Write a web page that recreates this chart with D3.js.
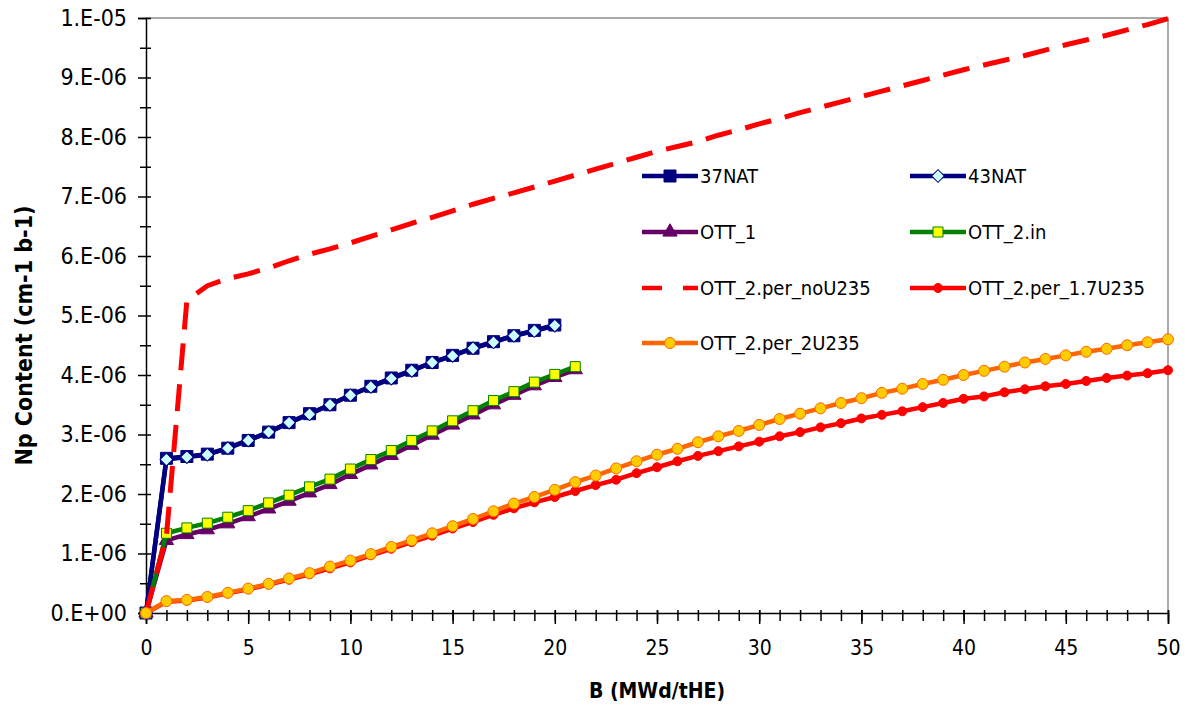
<!DOCTYPE html>
<html>
<head>
<meta charset="utf-8">
<title>Np Content vs Burnup</title>
<script src="https://d3js.org/d3.v7.min.js"></script>
<style>
body { margin: 0; background: #fff; }
text { font-family: 'DejaVu Sans Condensed', 'DejaVu Sans', sans-serif; fill: #000; }
</style>
</head>
<body>
<svg id="chart" width="1188" height="711"></svg>
<script>
// Np content in units of 1e-6 (cm-1 b-1), one value per burnup step of 1 MWd/tHE from 0
var np37NAT = [0, 2.60, 2.63, 2.67, 2.77, 2.90, 3.04, 3.20, 3.35, 3.50, 3.66, 3.81, 3.95, 4.08, 4.21, 4.33, 4.45, 4.56, 4.66, 4.75, 4.84];
var np43NAT = [0, 2.58, 2.62, 2.66, 2.77, 2.90, 3.04, 3.20, 3.34, 3.50, 3.66, 3.80, 3.94, 4.07, 4.21, 4.32, 4.45, 4.55, 4.66, 4.74, 4.83];
var npOTT1 = [0, 1.22, 1.32, 1.40, 1.50, 1.62, 1.75, 1.88, 2.02, 2.16, 2.33, 2.49, 2.65, 2.82, 2.99, 3.16, 3.33, 3.50, 3.66, 3.82, 3.96, 4.09];
var npOTT2in = [0, 1.34, 1.43, 1.51, 1.61, 1.72, 1.85, 1.98, 2.12, 2.25, 2.42, 2.58, 2.73, 2.90, 3.06, 3.23, 3.40, 3.57, 3.72, 3.88, 4.01, 4.14];
var npNoU235 = [0, 1.30, 5.25, 5.50, 5.62, 5.70, 5.80, 5.92, 6.03, 6.12, 6.22, 6.33, 6.44, 6.55, 6.65, 6.76, 6.87, 6.97, 7.06, 7.16,
                7.26, 7.36, 7.46, 7.56, 7.66, 7.76, 7.84, 7.92, 8.03, 8.12, 8.22, 8.31, 8.41, 8.50, 8.59, 8.68, 8.77, 8.86, 8.95, 9.04,
                9.13, 9.21, 9.29, 9.37, 9.46, 9.55, 9.63, 9.71, 9.80, 9.89, 9.99];
var np17U235 = [0, 0.19, 0.21, 0.26, 0.33, 0.40, 0.48, 0.56, 0.65, 0.75, 0.85, 0.97, 1.08, 1.19, 1.30, 1.42, 1.53, 1.65, 1.76, 1.86,
                1.95, 2.05, 2.15, 2.24, 2.35, 2.45, 2.55, 2.64, 2.72, 2.80, 2.88, 2.97, 3.04, 3.12, 3.19, 3.27, 3.33, 3.39, 3.46, 3.53,
                3.60, 3.64, 3.71, 3.76, 3.81, 3.85, 3.90, 3.95, 3.99, 4.03, 4.08];
var np2U235 = [0, 0.20, 0.22, 0.27, 0.34, 0.41, 0.49, 0.58, 0.67, 0.78, 0.88, 0.99, 1.11, 1.22, 1.34, 1.46, 1.58, 1.71, 1.84, 1.95,
               2.07, 2.20, 2.31, 2.43, 2.55, 2.66, 2.76, 2.87, 2.97, 3.06, 3.16, 3.26, 3.35, 3.44, 3.53, 3.61, 3.70, 3.77, 3.85, 3.92,
               4.00, 4.07, 4.14, 4.21, 4.27, 4.33, 4.39, 4.44, 4.50, 4.55, 4.60];

var xMajorTicks = [0, 5, 10, 15, 20, 25, 30, 35, 40, 45, 50];
var yTickValues = [0, 1, 2, 3, 4, 5, 6, 7, 8, 9, 10];
var yTickLabels = ["0.E+00", "1.E-06", "2.E-06", "3.E-06", "4.E-06", "5.E-06", "6.E-06", "7.E-06", "8.E-06", "9.E-06", "1.E-05"];

var series = [
    {name: "37NAT", data: np37NAT, color: "#000080", marker: "square", fill: "#000080", stroke: "#000080", size: 12, col: 0, row: 0},
    {name: "43NAT", data: np43NAT, color: "#000080", marker: "diamond", fill: "#ccffff", stroke: "#000080", size: 9, col: 1, row: 0},
    {name: "OTT_1", data: npOTT1, color: "#660066", marker: "triangle", fill: "#660066", stroke: "#660066", size: 14, col: 0, row: 1},
    {name: "OTT_2.in", data: npOTT2in, color: "#008000", marker: "square", fill: "#ffff00", stroke: "#008000", size: 10, col: 1, row: 1},
    {name: "OTT_2.per_noU235", data: npNoU235, color: "#ff0000", dash: "27,14", marker: null, col: 0, row: 2},
    {name: "OTT_2.per_1.7U235", data: np17U235, color: "#ff0000", marker: "circle", fill: "#ff0000", stroke: "#ff0000", size: 9, col: 1, row: 2},
    {name: "OTT_2.per_2U235", data: np2U235, color: "#ff6600", marker: "circle", fill: "#ffcc00", stroke: "#ff6600", size: 11, col: 0, row: 3}
];

var margin = {top: 18, right: 20, bottom: 98, left: 146},
    width = 1188 - margin.left - margin.right,
    height = 711 - margin.top - margin.bottom;

var svg = d3.select("#chart")
  .append("g")
    .attr("transform", "translate(" + margin.left + "," + margin.top + ")");

var x = d3.scaleLinear().domain([0, 50]).range([0, width]);
var y = d3.scaleLinear().domain([0, 10]).range([height, 0]);

// plot frame (top and right in grey)
svg.append("path")
    .attr("d", "M0,0H" + width + "V" + height)
    .attr("fill", "none")
    .attr("stroke", "#909090")
    .attr("stroke-width", 1.5);

// x axis: minor ticks each unit, major each 5
svg.append("g")
    .attr("transform", "translate(0," + height + ")")
    .call(d3.axisBottom(x).tickValues(d3.range(0, 51)).tickSize(8).tickFormat(""))
    .call(function(g) { g.select(".domain").remove(); })
    .selectAll("line").attr("y1", -3).attr("stroke", "#000").attr("stroke-width", 1.5);
var xAxis = svg.append("g")
    .attr("transform", "translate(0," + height + ")")
    .call(d3.axisBottom(x).tickValues(xMajorTicks).tickSize(11).tickPadding(15));
xAxis.select(".domain").attr("stroke-width", 1.5);
xAxis.selectAll("line").attr("y1", -3).attr("stroke-width", 1.5);
xAxis.selectAll("text").style("font-size", "21px").attr("dy", "0.75em");

// y axis: major ticks at labels, minor halfway
svg.append("g")
    .call(d3.axisLeft(y).tickValues(d3.range(0.5, 10, 1)).tickSize(6).tickFormat(""))
    .call(function(g) { g.select(".domain").remove(); })
    .selectAll("line").attr("x1", 5).attr("stroke", "#000").attr("stroke-width", 1.5);
var yAxis = svg.append("g")
    .call(d3.axisLeft(y).tickValues(yTickValues).tickSize(8).tickPadding(11)
        .tickFormat(function(d, i) { return yTickLabels[i]; }));
yAxis.select(".domain").attr("stroke-width", 1.5);
yAxis.selectAll("line").attr("x1", 5).attr("stroke-width", 1.5);
yAxis.selectAll("text").style("font-size", "23px");

// axis titles
svg.append("text")
    .attr("x", width / 2)
    .attr("y", height + 85)
    .attr("text-anchor", "middle")
    .style("font-size", "21px")
    .style("font-weight", "bold")
    .text("B (MWd/tHE)");
svg.append("text")
    .attr("transform", "translate(" + (-114) + "," + (height / 2 + 20) + ") rotate(-90)")
    .attr("text-anchor", "middle")
    .style("font-size", "23px")
    .style("font-weight", "bold")
    .text("Np Content (cm-1 b-1)");

function markerPath(s) {
    if (s.marker === "square" || s.marker === "diamond") return d3.symbol().type(d3.symbolSquare).size(s.size * s.size)();
    if (s.marker === "triangle") return d3.symbol().type(d3.symbolTriangle).size(s.size * s.size * 0.45)();
    return d3.symbol().type(d3.symbolCircle).size(Math.PI * s.size * s.size / 4)();
}

var line = d3.line()
    .x(function(d, i) { return x(i); })
    .y(function(d) { return y(d); });

series.forEach(function(s) {
    var g = svg.append("g");
    g.append("path")
        .datum(s.data)
        .attr("d", line)
        .attr("fill", "none")
        .attr("stroke", s.color)
        .attr("stroke-width", s.dash ? 5 : 4.5)
        .attr("stroke-dasharray", s.dash || null)
        .attr("stroke-linejoin", "round");
    if (s.marker) {
        g.selectAll("path.mk")
            .data(s.data)
            .enter().append("path")
            .attr("class", "mk")
            .attr("d", markerPath(s))
            .attr("transform", function(d, i) {
                return "translate(" + x(i) + "," + y(d) + ")" + (s.marker === "diamond" ? " rotate(45)" : "");
            })
            .attr("fill", s.fill)
            .attr("stroke", s.stroke)
            .attr("stroke-width", 1);
    }
});

// legend
var legendCols = [496, 764], legendRows = [158, 214, 270, 325];
var legend = svg.append("g");
series.forEach(function(s) {
    var lx = legendCols[s.col], ly = legendRows[s.row];
    var item = legend.append("g").attr("transform", "translate(" + lx + "," + ly + ")");
    item.append("line")
        .attr("x1", 0).attr("x2", 56)
        .attr("stroke", s.color)
        .attr("stroke-width", 4.5)
        .attr("stroke-dasharray", s.dash ? "20,21" : null);
    if (s.marker) {
        item.append("path")
            .attr("d", markerPath(s))
            .attr("transform", "translate(28,0)" + (s.marker === "diamond" ? " rotate(45)" : ""))
            .attr("fill", s.fill)
            .attr("stroke", s.stroke)
            .attr("stroke-width", 1);
    }
    item.append("text")
        .attr("x", 58)
        .attr("dy", "0.36em")
        .style("font-size", "20px")
        .text(s.name);
});
</script>
</body>
</html>
